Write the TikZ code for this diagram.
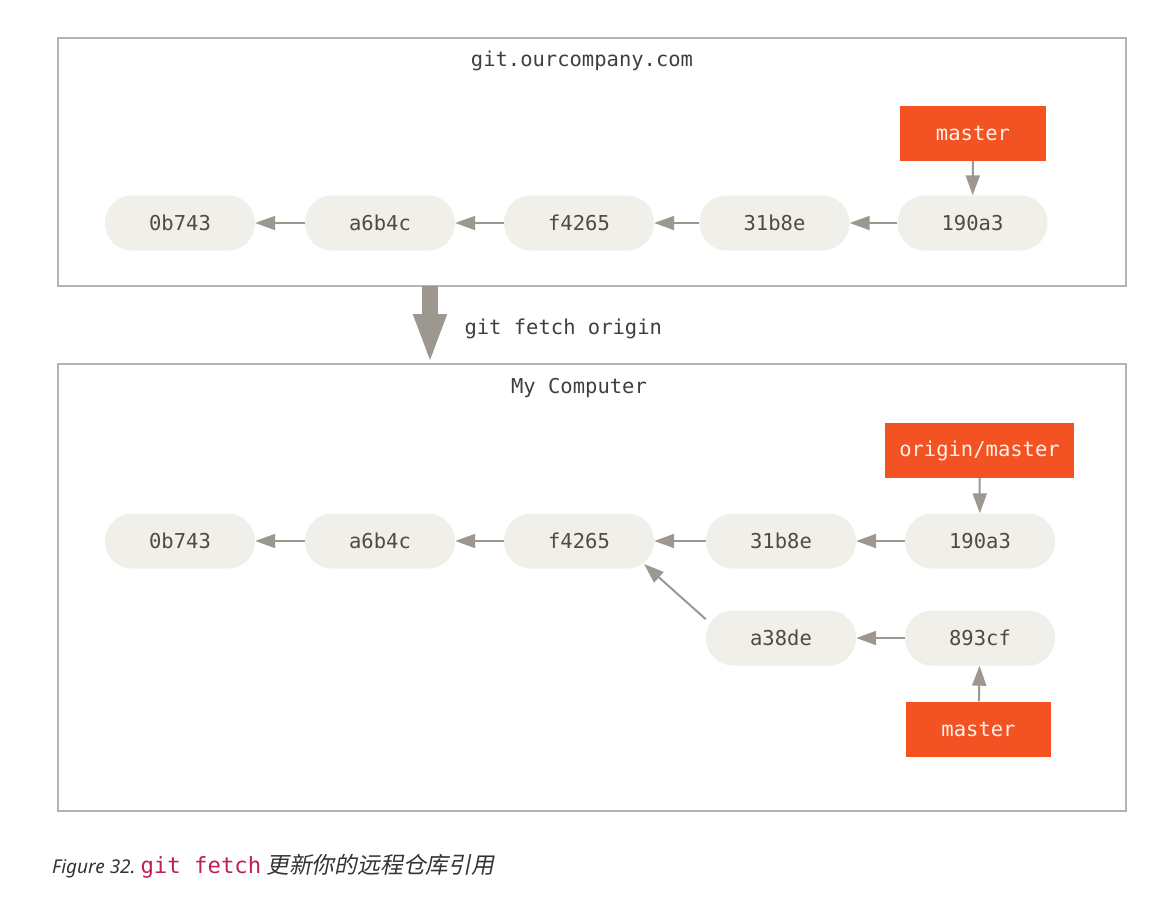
\documentclass[tikz,border=0pt]{standalone}
\usepackage{fontspec}
\setmonofont{DejaVu Sans Mono}
\setsansfont{Noto Sans}
\newfontfamily\cjkfont[FakeSlant=0.2]{Noto Sans CJK SC}
\usetikzlibrary{arrows.meta,calc}

\definecolor{commitfill}{HTML}{F0EFE9}
\definecolor{committext}{HTML}{4E4A44}
\definecolor{branchred}{HTML}{F35322}
\definecolor{arrowgray}{HTML}{9C978F}
\definecolor{framegray}{HTML}{B4B4B4}
\definecolor{codered}{HTML}{C0214F}

\begin{document}
\begin{tikzpicture}[x=1pt, y=-1pt,
    mono/.style={font=\fontsize{20.5}{24}\selectfont\ttfamily},
    commit/.style={mono, rectangle, rounded corners=27pt, fill=commitfill, text=committext,
        minimum width=150pt, minimum height=55pt, inner sep=0pt},
    branch/.style={mono, rectangle, fill=branchred, text=white!92!branchred,
        minimum height=55pt, inner sep=0pt},
    frame/.style={draw=framegray, line width=1.8pt, outer sep=0pt, inner sep=0pt},
    parent/.style={draw=arrowgray, line width=2pt, -{Triangle[length=20pt,width=14pt]}},
    fetch/.style={draw=arrowgray, line width=16pt, -{Triangle[length=50pt,width=30pt]}}]
    \useasboundingbox (0,0) rectangle (1157,899);

    % Frames
    \node[frame, minimum width=1068pt, minimum height=248pt] (remote) at (592,162) {};
    \node[frame, minimum width=1068pt, minimum height=447pt] (local) at (592,587.5) {};
    \node[mono, text=committext!85!black] (remotetitle) at (582,61) {git.ourcompany.com};
    \node[mono, text=committext!85!black] (localtitle) at (579,388) {My Computer};

    % Remote commits
    \node[commit] (r0b743) at (180,223) {0b743};
    \node[commit] (ra6b4c) at (380,223) {a6b4c};
    \node[commit] (rf4265) at (579,223) {f4265};
    \node[commit] (r31b8e) at (774.5,223) {31b8e};
    \node[commit] (r190a3) at (972.5,223) {190a3};
    \node[branch, minimum width=146pt] (rmaster) at (973,133.5) {master};

    \draw[parent] (ra6b4c) -- (r0b743);
    \draw[parent] (rf4265) -- (ra6b4c);
    \draw[parent] (r31b8e) -- (rf4265);
    \draw[parent] (r190a3) -- (r31b8e);
    \draw[parent] (rmaster) -- (r190a3);

    % Fetch
    \coordinate (fetchx) at (430,0);
    \draw[fetch] (remote.south -| fetchx) -- (local.north -| fetchx);
    \node[mono, text=committext!85!black, anchor=west] (fetchlabel) at (461,329) {git fetch origin};

    % Local commits
    \node[commit] (l0b743) at (180,541) {0b743};
    \node[commit] (la6b4c) at (380,541) {a6b4c};
    \node[commit] (lf4265) at (579,541) {f4265};
    \node[commit] (l31b8e) at (781,541) {31b8e};
    \node[commit] (l190a3) at (980,541) {190a3};
    \node[commit] (la38de) at (781,638) {a38de};
    \node[commit] (l893cf) at (980,638) {893cf};
    \node[branch, minimum width=189pt] (lorigin) at (979.5,450.5) {origin/master};
    \node[branch, minimum width=145pt] (lmaster) at (978.5,729) {master};

    \draw[parent] (la6b4c) -- (l0b743);
    \draw[parent] (lf4265) -- (la6b4c);
    \draw[parent] (l31b8e) -- (lf4265);
    \draw[parent] (l190a3) -- (l31b8e);
    \draw[parent] (l893cf) -- (la38de);
    \draw[parent] (la38de.166) -- ($(lf4265.center)+(65,23)$);
    \draw[parent] (lorigin) -- (l190a3);
    \draw[parent] (lmaster) -- (l893cf);

    % Caption
    \node[anchor=west, inner sep=0pt, text=black!80] (caption) at (52,866)
        {\fontsize{19}{24}\selectfont\sffamily\itshape Figure 32.\ \textcolor{codered}{\fontsize{22.3}{24}\selectfont\upshape\ttfamily git fetch}\hspace{5pt}{\fontsize{22.8}{24}\selectfont\cjkfont 更新你的远程仓库引用}};
\end{tikzpicture}
\end{document}
